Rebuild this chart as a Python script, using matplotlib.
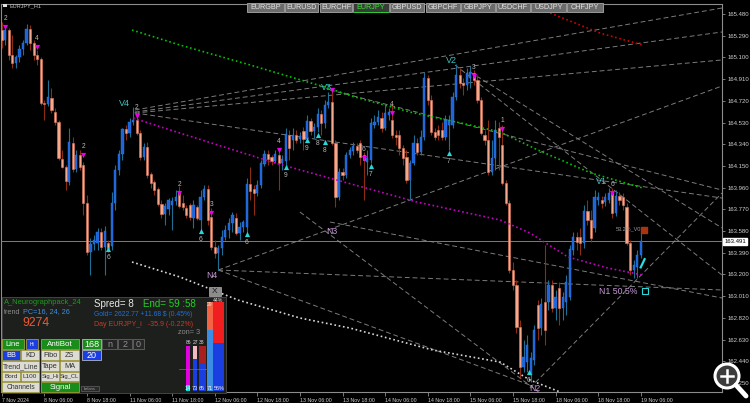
import matplotlib
matplotlib.use('Agg')
import matplotlib.pyplot as plt
from matplotlib.patches import Rectangle, Circle
import numpy as np

plt.rcParams['font.family'] = ['Liberation Sans', 'DejaVu Sans']

# ---------------- data ----------------
symbol = "EURJPY_H1"
tabs = ["EURGBP", "EURUSD", "EURCHF", "EURJPY", "GBPUSD", "GBPCHF", "GBPJPY", "USDCHF", "USDJPY", "CHFJPY"]
active_tab = "EURJPY"

opens = [165.340,165.253,165.340,165.121,165.051,165.104,165.174,165.226,165.349,165.226,
         165.121,165.086,164.701,164.692,164.745,164.622,164.535,164.211,164.141,164.009,
         164.351,164.123,164.246,164.158,163.826,163.396,163.467,163.475,163.572,163.440,
         163.475,163.449,163.826,164.114,164.255,164.473,164.438,164.535,164.552,164.438,
         164.228,164.316,164.079,164.009,163.948,163.817,163.729,163.773,163.808,163.843,
         163.922,163.826,163.782,163.808,163.694,163.791,163.677,163.878,163.948,163.703,
         163.440,163.388,163.432,163.528,163.589,163.650,163.694,163.563,163.615,163.615,
         163.992,163.948,163.913,163.983,164.167,164.255,164.228,164.193,164.246,164.176,
         164.193,164.421,164.377,164.421,164.386,164.456,164.386,164.544,164.456,164.491,
         164.605,164.526,164.684,164.710,164.351,163.878,164.097,164.071,164.246,164.281,
         164.325,164.351,164.246,164.185,164.202,164.508,164.535,164.570,164.482,164.596,
         164.552,164.421,164.421,164.307,164.228,164.027,164.176,164.351,164.272,164.403,
         164.920,164.727,164.447,164.465,164.465,164.403,164.508,164.508,164.754,164.946,
         164.876,164.859,164.920,164.964,164.903,164.727,164.421,164.377,164.097,164.220,
         164.482,164.333,164.001,163.826,163.239,163.108,162.740,162.390,162.433,162.319,
         162.451,162.932,162.731,162.959,162.959,163.108,162.906,163.081,162.906,162.959,
         163.003,163.414,163.528,163.528,163.475,163.755,163.677,163.607,163.852,163.852,
         163.834,163.852,163.913,163.738,163.887,163.878,163.791,163.475,163.239,163.265,163.370]
closes = [165.253,165.340,165.121,165.051,165.104,165.174,165.226,165.349,165.226,165.121,
          165.086,164.701,164.692,164.754,164.640,164.535,164.220,164.141,164.018,164.360,
          164.123,164.246,164.141,163.826,163.396,163.467,163.502,163.572,163.440,163.580,
          163.432,163.826,164.114,164.255,164.473,164.438,164.535,164.552,164.438,164.228,
          164.316,164.071,164.001,163.939,163.817,163.729,163.799,163.852,163.843,163.878,
          163.799,163.791,163.720,163.703,163.808,163.694,163.878,163.948,163.677,163.440,
          163.388,163.432,163.528,163.589,163.650,163.720,163.563,163.615,163.659,163.992,
          163.931,163.913,163.983,164.176,164.255,164.211,164.193,164.255,164.176,164.211,
          164.430,164.307,164.421,164.377,164.412,164.386,164.544,164.456,164.491,164.605,
          164.526,164.684,164.710,164.351,163.878,164.097,164.071,164.246,164.290,164.325,
          164.290,164.228,164.202,164.220,164.526,164.535,164.579,164.482,164.614,164.622,
          164.421,164.403,164.307,164.220,164.027,164.176,164.351,164.272,164.403,164.920,
          164.727,164.447,164.403,164.421,164.403,164.552,164.552,164.754,164.946,164.876,
          164.859,164.964,164.973,164.903,164.727,164.438,164.377,164.097,164.220,164.465,
          164.403,164.001,163.826,163.239,163.108,162.740,162.390,162.477,162.582,162.468,
          162.714,162.731,162.941,162.714,163.108,162.906,163.003,162.906,163.003,163.134,
          163.423,163.528,163.484,163.475,163.755,163.677,163.519,163.878,163.878,163.826,
          163.878,163.913,163.738,163.887,163.852,163.808,163.475,163.239,163.283,163.370,163.491]
highs = [165.410,165.384,165.358,165.297,165.121,165.209,165.253,165.393,165.384,165.253,
         165.165,165.104,164.727,164.903,164.832,164.657,164.552,164.290,164.158,164.482,
         164.403,164.290,164.290,164.185,163.896,163.519,163.545,163.607,163.607,163.624,
         163.502,163.922,164.158,164.290,164.482,164.508,164.570,164.666,164.640,164.465,
         164.351,164.360,164.097,164.027,163.966,163.852,163.826,163.869,163.878,163.939,
         163.974,163.896,163.808,163.826,163.852,163.808,163.939,163.983,163.983,163.782,
         163.502,163.458,163.589,163.633,163.694,163.747,163.738,163.659,163.677,164.044,
         164.141,163.983,164.027,164.202,164.290,164.290,164.246,164.290,164.290,164.246,
         164.482,164.465,164.482,164.465,164.447,164.491,164.596,164.570,164.526,164.657,
         164.640,164.727,164.797,164.832,164.377,164.132,164.132,164.272,164.316,164.360,
         164.351,164.377,164.272,164.290,164.570,164.596,164.640,164.622,164.684,164.657,
         164.684,164.465,164.465,164.333,164.290,164.202,164.421,164.395,164.465,164.973,
         164.946,164.771,164.482,164.508,164.535,164.596,164.596,164.797,165.043,165.008,
         164.920,165.008,165.025,164.990,164.946,164.754,164.465,164.552,164.377,164.552,
         164.535,164.508,164.027,163.852,163.309,163.151,162.801,162.626,162.670,162.521,
         162.757,162.976,162.994,163.458,163.151,163.151,163.064,163.134,163.046,163.195,
         163.458,163.572,163.572,163.607,163.808,163.852,163.764,163.939,163.922,163.887,
         163.913,163.957,163.957,163.939,163.922,163.913,163.826,163.502,163.326,163.414,163.572]
lows = [165.183,165.209,165.078,165.008,165.008,165.060,165.121,165.209,165.165,165.078,
        165.034,164.684,164.552,164.675,164.614,164.508,164.202,164.132,163.939,163.983,
        164.097,164.097,164.114,163.720,163.370,163.195,163.414,163.414,163.414,163.195,
        163.396,163.414,163.764,164.071,164.202,164.377,164.403,164.508,164.421,164.202,
        164.202,164.044,163.957,163.896,163.799,163.694,163.633,163.720,163.589,163.808,
        163.782,163.764,163.694,163.677,163.607,163.677,163.572,163.852,163.633,163.414,
        163.344,163.239,163.370,163.502,163.519,163.572,163.545,163.502,163.572,163.545,
        163.852,163.720,163.887,163.957,164.150,164.158,164.158,164.176,163.939,164.114,
        164.158,164.202,164.290,164.351,164.351,164.290,164.360,164.421,164.395,164.447,
        164.421,164.482,164.657,164.333,163.791,163.852,164.027,164.044,164.220,164.246,
        164.263,164.158,163.852,164.071,164.176,164.482,164.508,164.447,164.465,164.552,
        164.395,164.333,164.246,164.158,164.001,163.852,164.158,164.246,164.246,164.377,
        164.684,164.421,164.377,164.377,164.377,164.377,164.290,164.482,164.727,164.832,
        164.771,164.815,164.832,164.859,164.701,164.421,164.333,164.071,164.071,164.114,
        164.114,163.983,163.808,163.213,163.064,162.687,162.293,162.346,162.346,162.258,
        162.407,162.626,162.670,162.582,162.889,162.871,162.801,162.757,162.801,162.845,
        162.976,163.370,163.414,163.370,163.432,163.633,163.484,163.572,163.808,163.782,
        163.799,163.826,163.694,163.712,163.808,163.764,163.458,163.195,163.169,163.169,163.344]

time_idx = [0, 12, 24, 36, 48, 60, 72, 84, 96, 108, 120, 132, 144, 156, 168, 180]
time_labels = ["7 Nov 2024", "8 Nov 06:00", "8 Nov 18:00", "11 Nov 06:00", "11 Nov 18:00",
               "12 Nov 06:00", "12 Nov 18:00", "13 Nov 06:00", "13 Nov 18:00", "14 Nov 06:00",
               "14 Nov 18:00", "15 Nov 06:00", "15 Nov 18:00", "18 Nov 06:00", "18 Nov 18:00",
               "19 Nov 06:00"]
price_ticks = [165.480, 165.290, 165.100, 164.910, 164.720, 164.530, 164.340, 164.150, 163.960,
               163.770, 163.580, 163.390, 163.200, 163.010, 162.820, 162.630, 162.440, 162.250]
last_price = 163.491

# moving-average style indicator lines (bar index, price)
green_idx = [36.7, 50.2, 70, 91, 99.5, 115, 132, 140.4, 151, 166, 180.6]
green_val = [165.340, 165.209, 165.034, 164.841, 164.754, 164.622, 164.508, 164.447, 164.290, 164.088, 163.957]
magenta_idx = [37, 50.2, 77, 99.5, 117, 140.4, 148.8, 159.5, 170.8, 180.6]
magenta_val = [164.570, 164.438, 164.176, 163.983, 163.834, 163.677, 163.563, 163.353, 163.256, 163.195]
white_idx = [36.7, 50.2, 66.6, 84, 98.1, 121.5, 140.4, 148.8, 157.3]
white_val = [163.309, 163.178, 162.976, 162.819, 162.731, 162.538, 162.433, 162.276, 162.171]
red_idx = [154.5, 168.5, 180.6]
red_val = [165.489, 165.314, 165.209]

# trend lines: (start index, start price, end index, end price)
trend_lines = [
    (37.5, 164.640, 202.9, 165.533),
    (37.5, 164.622, 202.9, 165.323),
    (37.5, 164.614, 202.9, 165.078),
    (37.5, 164.614, 202.9, 163.869),
    (61.0, 163.239, 202.9, 164.850),
    (61.0, 163.239, 202.9, 163.064),
    (61.0, 163.239, 148.8, 162.232),
    (84.0, 163.747, 151.6, 162.162),
    (148.8, 162.206, 202.9, 163.913),
    (92.5, 164.815, 202.9, 163.939),
    (127.7, 165.034, 202.9, 163.195),
    (92.5, 163.659, 202.9, 162.994),
    (131.9, 164.973, 202.9, 163.607),
]

# wave labels
v_labels = ["V4", "V3", "V2", "V1"]
v_idx = [34.7, 91.6, 126.6, 169.0]
v_price = [164.701, 164.841, 165.069, 164.018]
n_labels = ["N4", "N3", "N2", "N1 50.5%"]
n_idx = [59.3, 93.0, 150.2, 168.3]
n_price = [163.187, 163.572, 162.206, 163.055]

# signal arrows
sell_idx = [1, 10, 23, 38, 50, 59, 78, 93, 102, 110, 133, 141, 172]
sell_price = [165.367, 165.192, 164.246, 164.587, 163.913, 163.738, 164.290, 164.815, 164.220, 164.614, 164.938, 164.473, 163.913]
sell_text = ["2", "4", "2", "2", "2", "3", "4", "", "6", "4", "3", "1", "6"]
buy_idx = [30, 56, 69, 80, 86, 89, 91, 104, 126, 148.5]
buy_price = [163.423, 163.580, 163.554, 164.141, 164.377, 164.421, 164.360, 164.150, 164.263, 162.346]
buy_text = ["6", "6", "6", "9", "9", "8", "8", "7", "7", "6"]

# ---------------- figure ----------------
fig = plt.figure(figsize=(7.5, 4.03), dpi=100, facecolor='black')
ax = fig.add_axes([1 / 750, 11 / 403, 721 / 750, 388 / 403])
ax.set_facecolor('black')
ax.set_xlim(-0.2, 202.9)
ax.set_ylim(162.171, 165.568)

o = np.array(opens); c = np.array(closes); h = np.array(highs); l = np.array(lows)
idx = np.arange(len(c))
up = c >= o
dn = ~up

ax.vlines(idx[up], l[up], h[up], color='#1f6f95', lw=0.8, zorder=3)
ax.vlines(idx[dn], l[dn], h[dn], color='#8c2c12', lw=0.8, zorder=3)
bot = np.minimum(o, c)
hgt = np.maximum(np.abs(c - o), 0.006)
ax.bar(idx[up], hgt[up], bottom=bot[up], width=0.62, color='#1e63d8', edgecolor='#2b7ee8', lw=0.3, zorder=4)
ax.bar(idx[dn], hgt[dn], bottom=bot[dn], width=0.62, color='#f4a98c', edgecolor='#e0785a', lw=0.4, zorder=4)

# trend lines
for (i0, p0, i1, p1) in trend_lines:
    ax.plot([i0, i1], [p0, p1], color='#7c7c7c', lw=0.7, dashes=(5, 3), zorder=2)

# indicator lines
ax.plot(green_idx, green_val, color='#00c400', lw=1.2, linestyle=(0, (1, 1.6)), zorder=5)
ax.plot(magenta_idx, magenta_val, color='#c800c8', lw=1.2, linestyle=(0, (1, 1.6)), zorder=5)
ax.plot(white_idx, white_val, color='#d8d8d8', lw=1.2, linestyle=(0, (1, 1.6)), zorder=5)
ax.plot(red_idx, red_val, color='#d40000', lw=1.2, linestyle=(0, (1, 1.6)), zorder=5)

# current price line
ax.axhline(last_price, color='#909090', lw=0.6, zorder=2)

# arrows
ax.scatter(sell_idx, sell_price, marker='v', s=14, color='#e800e8', zorder=6, linewidths=0)
for i, p, t in zip(sell_idx, sell_price, sell_text):
    if t:
        ax.text(i, p + 0.045, t, color='#b8b8b8', fontsize=4.8, ha='center', va='bottom', zorder=6)
ax.scatter(buy_idx, buy_price, marker='^', s=14, color='#28d8d8', zorder=6, linewidths=0)
for i, p, t in zip(buy_idx, buy_price, buy_text):
    ax.text(i, p - 0.04, t, color='#b8b8b8', fontsize=4.8, ha='center', va='top', zorder=6)

for t, i, p in zip(v_labels, v_idx, v_price):
    ax.text(i, p, t, color='#36c6c6', fontsize=6.5, ha='center', va='center', zorder=6)
for t, i, p in zip(n_labels, n_idx, n_price):
    ax.text(i, p, t, color='#c898d8', fontsize=6.3, ha='left' if ' ' in t else 'center', va='center', zorder=6)

ax.text(176.5, 163.598, "53.2%_V0", color='#9a9a9a', fontsize=4, ha='center', va='center', zorder=6)
ax.scatter([181.0], [163.590], marker='s', s=14, color='#a83410', zorder=6)
ax.scatter([181.2], [163.055], marker='s', s=14, facecolor='none', edgecolor='#28d8d8', lw=0.8, zorder=6)
ax.plot([180.0, 181.1], [163.262, 163.334], color='#28e0e0', lw=1.6, zorder=6)

# axes styling
for s in ax.spines.values():
    s.set_color('#8c8c8c')
    s.set_linewidth(0.8)
ax.yaxis.tick_right()
ax.set_yticks(price_ticks)
ax.set_yticklabels([f"{p:.3f}" for p in price_ticks])
ax.set_xticks(time_idx)
ax.set_xticklabels(time_labels, ha='left')
ax.tick_params(axis='y', colors='#8c8c8c', labelcolor='#d0d0d0', labelsize=4.3, length=2.5, width=0.6, pad=1.5)
ax.tick_params(axis='x', colors='#8c8c8c', labelcolor='#d0d0d0', labelsize=3.8, length=3, width=0.6, pad=1.5)
ax.text(1.003, last_price, f"{last_price:.3f}", transform=ax.get_yaxis_transform(), color='black',
        fontsize=4.3, ha='left', va='center', zorder=8,
        bbox=dict(boxstyle='square,pad=0.15', fc='white', ec='white'))

# ---------------- UI overlay (pixel coordinates) ----------------
ui = fig.add_axes([0, 0, 1, 1], zorder=10)
ui.set_xlim(0, 750)
ui.set_ylim(403, 0)
ui.axis('off')
ui.patch.set_alpha(0)

ui.add_patch(Rectangle((3, 4), 4, 3, fc='#e0e0e0', ec='none'))
ui.text(9, 6, symbol, color='#c0c0c0', fontsize=4, va='center', ha='left')

tab_x = [(247, 284), (285, 318), (320, 352), (353, 389), (390, 424), (426, 460), (461, 495), (496, 530), (531, 566), (567, 603)]
for (x0, x1), t in zip(tab_x, tabs):
    active = (t == active_tab)
    ui.add_patch(Rectangle((x0, 2.5), x1 - x0, 9, fc='#3a3a3a' if active else '#6c6c6c',
                           ec='#30d030' if active else '#9a9a9a', lw=0.7))
    ui.text((x0 + x1) / 2, 7.2, t, color='#40e040' if active else '#e4e4e4', fontsize=5.2,
            ha='center', va='center')

# info panel
ui.add_patch(Rectangle((2, 297), 224, 96, fc='#1d1f1d', ec='#4a4a4a', lw=0.6))
ui.add_patch(Rectangle((209, 287), 12, 9, fc='#8c8c8c', ec='#b0b0b0', lw=0.5))
ui.text(215, 291.5, "X", color='#1a1a1a', fontsize=6, ha='center', va='center')
ui.text(4, 303, "A_Neurographpack_24", color='#1f9a1f', fontsize=5.4, va='center')
ui.text(4, 312, "trend", color='#8a8a8a', fontsize=5.2, va='center')
ui.text(23, 312, "PC=16, 24, 26", color='#3a8ee6', fontsize=5.2, va='center')
ui.text(22, 323, "9274", color='#e85a3a', fontsize=8.8, va='center')
ui.text(94, 304, "Spred= 8", color='#e8e8e8', fontsize=7, va='center')
ui.text(143, 304, "End= 59 :58", color='#22d022', fontsize=7, va='center')
ui.text(94, 314, "Gold= 2622.77 +11.68 $ (0.45%)", color='#2070d8', fontsize=4.9, va='center')
ui.text(94, 324, "Day EURJPY_i   -35.9 (-0.22%)", color='#c83a28', fontsize=5, va='center')
ui.text(178, 333, "zon= 3", color='#8a8a8a', fontsize=5.3, va='center')

green_btn = '#1a8c1a'; blue_btn = '#1a3ee0'; light_btn = '#dcdcd4'
buttons = [
    (2, 24, 339, 349, "Line", green_btn, 'white', 5.5), (26, 38, 339, 349, "Hi", blue_btn, 'white', 3.5),
    (41, 79, 339, 349, "AntiBot", green_btn, 'white', 5.8),
    (2, 20, 350, 360, "BB", blue_btn, 'white', 5.3), (21, 39, 350, 360, "KD", light_btn, '#303030', 5.3),
    (41, 59, 350, 360, "Fibo", light_btn, '#303030', 5.3), (60, 79, 350, 360, "ZS", light_btn, '#303030', 5.3),
    (2, 39, 361, 371, "Trend_Line", light_btn, '#303030', 5.0), (41, 59, 361, 371, "Tape", light_btn, '#303030', 5.3),
    (60, 79, 361, 371, "MA", light_btn, '#303030', 5.3),
    (2, 20, 372, 381, "Bord", light_btn, '#303030', 4.6), (21, 39, 372, 381, "L100", light_btn, '#303030', 4.6),
    (41, 59, 372, 381, "Sig_Hi", light_btn, '#303030', 4.2), (60, 79, 372, 381, "Sig_CL", light_btn, '#303030', 4.2),
    (2, 39, 382, 392, "Channels", light_btn, '#303030', 4.9), (41, 79, 382, 392, "Signal", green_btn, 'white', 5.5),
]
for x0, x1, y0, y1, t, fc, tc, fs in buttons:
    ui.add_patch(Rectangle((x0, y0), x1 - x0, y1 - y0, fc=fc, ec='#b8b040', lw=0.5))
    ui.text((x0 + x1) / 2, (y0 + y1) / 2 + 0.3, t, color=tc, fontsize=fs, ha='center', va='center')

boxes = [(82, 101, 339, 349, "168", green_btn, 'white', '#d0d0d0'),
         (102, 117, 339, 349, "n", '#262626', '#909090', '#707070'),
         (118, 132, 339, 349, "2", '#262626', '#909090', '#707070'),
         (133, 144, 339, 349, "0", '#262626', '#909090', '#707070'),
         (82, 101, 350, 360, "20", blue_btn, 'white', '#d0d0d0')]
for x0, x1, y0, y1, t, fc, tc, ec in boxes:
    ui.add_patch(Rectangle((x0, y0), x1 - x0, y1 - y0, fc=fc, ec=ec, lw=0.5))
    ui.text((x0 + x1) / 2, (y0 + y1) / 2 + 0.3, t, color=tc, fontsize=6.5, ha='center', va='center')
ui.add_patch(Rectangle((81, 386), 18, 5, fc='#2a2a2a', ec='#707070', lw=0.4))
ui.text(90, 388.5, "balans", color='#a0a0a0', fontsize=3, ha='center', va='center')

ui.plot([179, 207], [369, 369], color='#707070', lw=0.5)
bars = [(186, 190, 346, 385, '#e000e0'), (186, 190, 385, 391, '#00e0e0'),
        (193, 197, 346, 359, '#f4b8c4'), (193, 197, 359, 391, '#1a3ee0'),
        (199, 206, 346, 363, '#a82020'), (199, 206, 363, 391, '#1a3ee0'),
        (207, 213, 302, 330, '#f26444'), (207, 213, 330, 391, '#3a8ee6'),
        (213, 224, 302, 343, '#f01e1e'), (213, 224, 343, 391, '#1a3ee0')]
for x0, x1, y0, y1, col in bars:
    ui.add_patch(Rectangle((x0, y0), x1 - x0, y1 - y0, fc=col, ec='none'))
for x, t in zip([188, 195, 202], ["86", "27", "38"]):
    ui.text(x, 343, t, color='#e0e0e0', fontsize=3.6, ha='center', va='center')
ui.text(210, 305, "29", color='#e0e0e0', fontsize=3.6, ha='center', va='center')
ui.text(218, 300, "44%", color='#e0e0e0', fontsize=3.8, ha='center', va='center')
for x, t in zip([188, 195, 202, 210, 219], ["14", "73", "65", "71", "56%"]):
    ui.text(x, 388, t, color='#f0f0f0', fontsize=4, ha='center', va='center')

# magnifier icon
ui.add_patch(Circle((727, 376), 12, fc='#3c3c3c', ec='white', lw=2.2))
ui.plot([736, 746], [385, 396], color='white', lw=3.5, solid_capstyle='round')
ui.plot([721, 733], [376, 376], color='white', lw=1.8)
ui.plot([727, 727], [370, 382], color='white', lw=1.8)

fig.savefig('out.png', dpi=100, facecolor='black')
